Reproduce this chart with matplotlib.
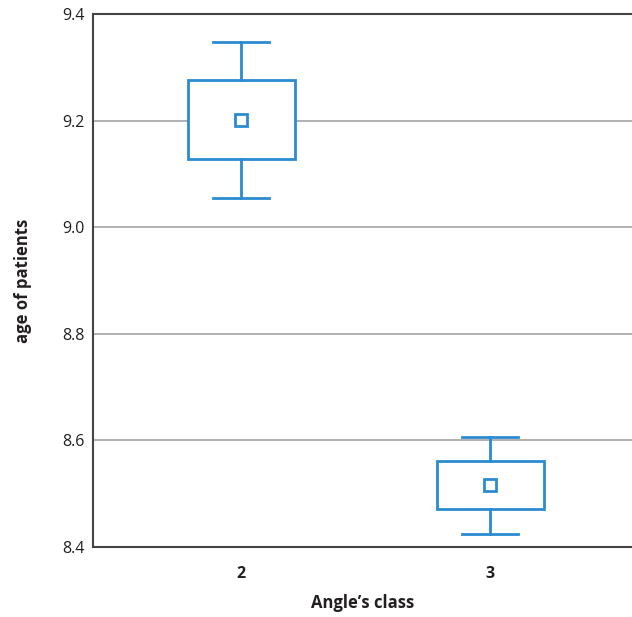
import matplotlib
matplotlib.use("Agg")
import matplotlib.pyplot as plt

categories = ["2", "3"]
whisker_low = [9.055, 8.424]
q1 = [9.128, 8.471]
means = [9.201, 8.516]
q3 = [9.276, 8.561]
whisker_high = [9.347, 8.606]
yticks = [8.4, 8.6, 8.8, 9.0, 9.2, 9.4]

plt.rcParams['font.family'] = ['Open Sans', 'DejaVu Sans']
blue = '#2b8bd0'

fig = plt.figure(figsize=(6.32, 6.17), dpi=100)
ax = fig.add_axes([93/632, 70/617, 1 - 93/632, (547-14)/617])

stats = []
for i, c in enumerate(categories):
    stats.append(dict(label=c, whislo=whisker_low[i], q1=q1[i], med=means[i],
                      q3=q3[i], whishi=whisker_high[i], mean=means[i], fliers=[]))

ax.bxp(stats, positions=[0, 1], widths=0.43, showmeans=True, patch_artist=True,
       boxprops=dict(facecolor='white', edgecolor=blue, linewidth=2.0),
       whiskerprops=dict(color=blue, linewidth=2.0),
       capprops=dict(color=blue, linewidth=2.0),
       capwidths=0.225,
       medianprops=dict(linewidth=0),
       meanprops=dict(marker='s', markerfacecolor='white', markeredgecolor=blue,
                      markeredgewidth=2.0, markersize=8.5), zorder=3)

ax.set_xlim(-0.595, 1.57)
ax.set_ylim(8.4, 9.4)
ax.set_yticks(yticks)
ax.set_yticklabels([f"{v:.1f}" for v in yticks], fontsize=11.5, color='#231f20')
ax.set_xticks([0, 1])
ax.set_xticklabels(categories, fontsize=11.5, fontweight='bold', color='#231f20')
ax.tick_params(axis='both', length=0)
ax.tick_params(axis='x', pad=14)
ax.tick_params(axis='y', pad=6)

for v in yticks[1:-1]:
    ax.axhline(v, color='#aaaaaa', linewidth=1.3, zorder=1)

for s in ['left', 'bottom', 'top']:
    ax.spines[s].set_color('#444444')
    ax.spines[s].set_linewidth(1.5)
ax.spines['right'].set_visible(False)

ax.set_xlabel("Angle\u2019s class", fontsize=12, fontweight='bold', color='#231f20', labelpad=8)
ax.set_ylabel("age of patients", fontsize=12, fontweight='bold', color='#231f20', labelpad=22)

fig.savefig("out.png", dpi=100, facecolor='white')
